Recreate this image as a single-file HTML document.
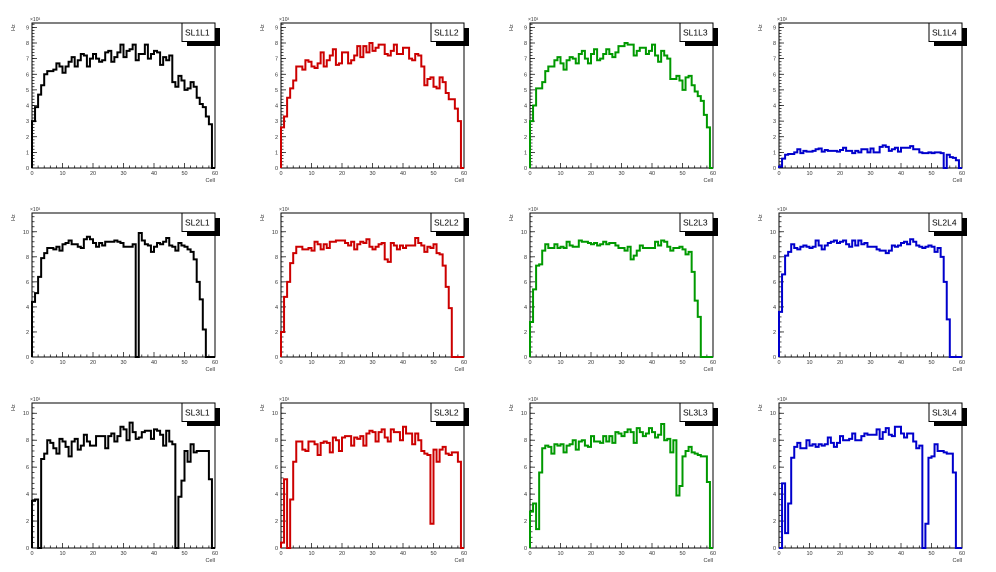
<!DOCTYPE html>
<html><head><meta charset="utf-8"><style>
body{margin:0;background:#fff;width:996px;height:572px;overflow:hidden}
svg{display:block;font-family:"Liberation Sans",sans-serif}
</style></head><body>
<svg id="c" width="996" height="572" viewBox="0 0 996 572"></svg>
<script>
const titles=["SL1L1","SL1L2","SL1L3","SL1L4","SL2L1","SL2L2","SL2L3","SL2L4","SL3L1","SL3L2","SL3L3","SL3L4"];
const yMaxByRow=[9.28,11.5,10.76];
const yMajorByRow=[[0,1,2,3,4,5,6,7,8,9],[0,2,4,6,8,10],[0,2,4,6,8,10]];
const xTicks=[0,10,20,30,40,50,60];
const sl1l1=[3.0,3.9,4.7,5.3,6.0,6.2,6.2,6.3,6.7,6.5,6.1,6.5,6.8,7.1,6.5,6.9,7.3,7.2,6.5,7.0,7.3,7.0,6.8,6.9,7.4,7.5,6.8,7.1,7.4,7.9,7.1,7.5,7.6,7.9,6.9,7.3,7.3,7.9,7.0,7.3,7.5,7.4,6.6,7.1,6.9,7.2,5.5,5.2,5.9,5.6,5.0,5.1,5.5,5.2,4.5,4.1,3.9,3.3,2.8,0];
const sl1l2=[2.6,3.3,4.5,5.1,5.6,6.5,6.5,6.3,6.9,6.8,6.5,6.4,6.7,7.4,6.5,6.9,7.2,7.6,6.6,6.7,7.4,7.4,6.7,6.9,7.2,7.8,7.1,7.8,7.4,8.0,7.5,7.7,7.9,7.9,7.3,7.2,7.5,7.9,7.3,7.3,7.7,7.7,7.0,6.9,7.3,7.2,6.5,5.3,5.7,5.8,5.2,5.1,5.8,5.5,4.8,4.4,4.4,3.8,3.0,0];
const sl1l3=[3.0,4.0,5.1,5.1,5.5,6.2,6.5,6.5,6.9,7.1,6.7,6.3,6.9,7.1,7.0,6.7,7.3,7.5,7.0,6.7,7.3,7.6,6.9,7.0,7.3,7.6,7.3,7.1,7.4,7.8,7.8,8.0,7.9,7.9,7.2,7.5,7.7,7.7,7.3,7.5,7.9,7.2,6.8,7.5,7.2,7.0,5.7,5.7,5.9,5.6,5.0,5.8,5.9,5.3,4.9,4.6,4.3,3.4,2.6,0];
const sl1l4=[0.1,0.6,0.85,0.9,0.9,1.0,1.2,0.95,1.1,1.05,1.05,1.1,1.2,1.25,1.05,1.15,1.1,1.1,1.1,1.05,1.15,1.3,1.1,1.1,0.95,1.1,1.0,1.2,1.2,1.0,1.25,1.0,1.0,1.35,1.45,1.35,1.1,1.2,1.3,1.05,1.3,1.3,1.3,1.4,1.2,1.2,1.0,0.95,0.95,1.0,0.95,1.0,1.0,0.95,0,0.85,0.7,0.65,0.5,0];
const sl2l1=[4.4,5.1,6.4,7.9,8.3,8.7,8.7,8.6,8.8,8.5,9.0,9.1,9.3,9.0,9.0,8.8,8.7,9.4,9.6,9.4,9.1,8.8,9.1,8.9,9.2,9.2,9.2,9.3,9.2,9.1,8.8,8.8,8.8,9.0,0,9.9,9.3,9.0,8.9,8.4,8.8,9.1,9.0,9.2,9.5,8.9,8.8,8.5,9.1,8.9,8.8,8.6,8.4,7.8,6.0,4.6,2.2,0,0,0];
const sl2l2=[2.0,4.8,6.0,7.5,8.3,8.8,8.8,8.6,8.6,8.7,8.5,9.2,9.0,8.6,9.0,8.7,9.2,9.2,9.3,9.3,9.3,9.1,8.9,9.2,8.6,9.0,9.2,9.1,9.4,8.8,8.6,8.8,9.0,9.1,7.8,7.6,9.1,8.9,8.6,8.9,8.7,8.9,8.9,8.9,9.5,9.1,8.9,8.4,8.8,8.7,9.0,8.3,8.2,7.3,5.6,3.9,0,0,0,0];
const sl2l3=[2.8,5.4,7.3,7.4,8.5,9.0,8.7,8.7,9.0,8.7,8.8,8.7,9.2,8.9,8.8,8.8,9.3,9.2,9.2,9.1,9.0,9.1,8.9,9.0,9.2,9.0,9.1,9.1,8.9,8.7,8.7,8.5,8.8,7.8,8.1,8.5,8.9,8.7,8.7,8.7,8.7,9.2,8.9,9.3,9.2,8.8,8.5,8.7,8.7,8.8,8.6,8.2,8.4,6.8,4.5,3.2,0,0,0,0];
const sl2l4=[3.6,6.6,8.1,8.4,9.0,8.7,8.6,8.8,8.9,8.8,8.7,8.8,9.3,8.9,8.6,8.9,9.1,9.2,9.3,9.1,9.2,9.3,9.0,8.8,9.3,8.9,9.3,9.0,9.1,8.8,8.8,8.8,8.6,8.5,8.5,8.3,8.5,8.9,8.8,8.9,9.1,9.2,9.0,9.4,9.2,8.9,8.8,8.7,8.8,8.9,8.8,8.4,8.7,8.0,6.0,3.0,0,0,0,0];
const sl3l1=[3.5,3.6,0,6.6,7.0,8.0,7.8,7.4,7.0,8.1,7.9,7.5,6.8,7.9,8.1,7.3,7.6,8.4,7.9,7.6,7.6,8.3,8.3,8.3,7.4,8.3,8.5,7.9,8.3,9.0,8.8,8.0,9.3,8.6,8.1,8.2,8.6,8.7,8.7,8.1,8.8,8.7,8.4,7.6,8.7,7.9,7.7,0,3.8,5.0,7.2,6.4,7.7,7.1,7.2,7.2,7.2,7.2,5.1,0];
const sl3l2=[0.4,5.1,0,3.6,6.4,7.9,7.9,7.3,7.2,7.9,7.9,7.7,6.9,7.8,7.9,7.8,7.1,8.2,8.0,7.2,8.2,8.3,8.3,7.6,8.2,8.1,8.3,7.6,8.5,8.7,8.6,7.9,8.6,8.8,8.2,7.9,8.8,8.6,8.6,8.0,9.0,8.5,8.5,7.7,8.5,8.0,7.2,7.0,6.9,1.8,7.3,6.4,7.3,7.5,7.0,6.9,7.1,7.1,6.4,0];
const sl3l3=[2.7,3.3,1.4,5.6,7.4,7.6,7.5,7.0,7.7,7.6,7.7,7.1,7.6,7.7,8.0,7.3,7.9,8.0,7.6,7.5,8.3,7.9,7.9,7.8,8.3,7.9,8.3,7.8,8.6,8.5,8.3,8.6,8.8,8.6,7.8,8.9,8.6,8.3,8.5,8.9,8.6,8.2,8.4,9.2,8.0,8.1,7.1,8.0,3.9,4.6,6.8,7.2,7.5,7.1,7.0,6.9,6.8,6.8,4.9,0];
const sl3l4=[0,4.8,1.1,3.3,6.7,7.5,7.8,7.4,7.4,8.0,7.6,7.7,7.5,7.7,7.6,7.7,8.2,7.8,7.5,7.8,8.3,8.0,8.0,8.1,8.5,8.0,8.0,8.3,8.5,8.4,8.4,8.4,8.8,8.1,8.6,8.9,8.4,8.3,9.0,9.0,8.5,8.2,8.5,8.5,7.9,7.4,7.6,0,1.8,6.7,6.8,7.7,7.2,7.2,7.1,7.0,7.0,5.6,0,0];
const series=[sl1l1,sl1l2,sl1l3,sl1l4,sl2l1,sl2l2,sl2l3,sl2l4,sl3l1,sl3l2,sl3l3,sl3l4];
const colors=["#000","#cc0000","#009900","#0000cc"];
const NS="http://www.w3.org/2000/svg";
const svg=document.getElementById('c');
const colX=[32,281,530,779],rowTop=[23,213,403],rowBot=[168,357,548],FW=183;
function mk(tag,attrs,parent){const e=document.createElementNS(NS,tag);for(const k in attrs)e.setAttribute(k,attrs[k]);(parent||svg).appendChild(e);return e;}
series.forEach((data,i)=>{
  const r=Math.floor(i/4),c=i%4;
  const x0=colX[c],y0=rowTop[r],y1=rowBot[r],ymax=yMaxByRow[r];
  const g=mk('g',{});
  
  
  const sx=v=>x0+v/60*FW, sy=v=>y1-v/ymax*(y1-y0);
  const fr=mk('rect',{x:x0,y:y0,width:FW,height:y1-y0,fill:'none',stroke:'#000','stroke-width':1},g);
  
  
  // x ticks
  for(let v=0;v<=60;v+=2){const maj=v%10===0;mk('line',{x1:sx(v),x2:sx(v),y1:y1,y2:y1-(maj?5:2.5),stroke:'#000','stroke-width':0.7},g);}
  xTicks.forEach(v=>{const t=mk('text',{x:sx(v),y:y1+7,'font-size':5.5,'text-anchor':'middle',fill:'#333'},g);t.textContent=v;
    
    });
  // y ticks
  const step=r===0?0.2:0.4;
  for(let v=0;v<=ymax+1e-6;v+=step){mk('line',{x1:x0,x2:x0+2.5,y1:sy(v),y2:sy(v),stroke:'#000','stroke-width':0.7},g);}
  yMajorByRow[r].forEach(v=>{mk('line',{x1:x0,x2:x0+5,y1:sy(v),y2:sy(v),stroke:'#000','stroke-width':0.7},g);
    const t=mk('text',{x:x0-3,y:sy(v)+2,'font-size':5.5,'text-anchor':'end',fill:'#333'},g);t.textContent=v;
    
    });
  const ex=mk('text',{x:x0-2,y:y0-2,'font-size':5,fill:'#333'},g);ex.textContent='×10³';
  
  
  const hz=mk('text',{x:0,y:0,'font-size':5.5,fill:'#333',transform:`translate(${x0-17},${y0+8}) rotate(-90)`},g);hz.textContent='Hz';
  
  
  if(r<2||c===3){}
  const cl=mk('text',{x:x0+FW,y:y1+14,'font-size':5.5,'text-anchor':'end',fill:'#333'},g);cl.textContent='Cell';
  
  
  // histogram
  let d=`M${sx(0)},${sy(0)}`;
  data.forEach((v,b)=>{d+=` L${sx(b)},${sy(v)} L${sx(b+1)},${sy(v)}`;});
  d+=` L${sx(60)},${sy(0)}`;
  const p=mk('path',{d:d,fill:'none',stroke:colors[c],'stroke-width':2,'stroke-linejoin':'miter'},g);
  
  
  // title box
  const bx=x0+FW-33,by=y0;
  mk('rect',{x:bx+5,y:by+5,width:33,height:18,fill:'#000'},g);
  const tb=mk('rect',{x:bx,y:by,width:33,height:18.5,fill:'#fff',stroke:'#000','stroke-width':1},g);
  
  
  const tt=mk('text',{x:bx+3,y:by+12.5,'font-size':8.5,fill:'#000'},g);tt.textContent=titles[i];
  
  
});
</script>
</body></html>
